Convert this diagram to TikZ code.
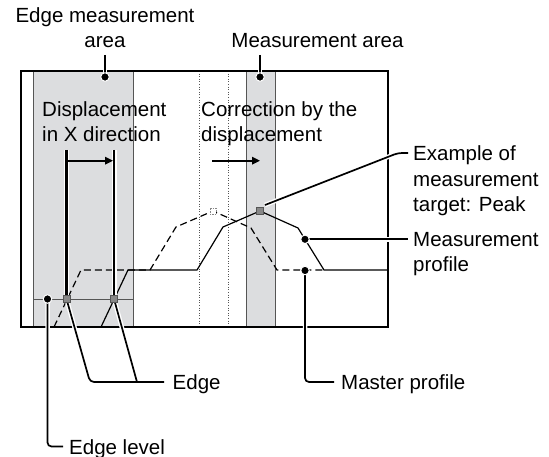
\documentclass[tikz,border=0pt]{standalone}
\usepackage{fontspec}
\setmainfont{Liberation Sans}
\usetikzlibrary{arrows.meta, positioning, calc}
\definecolor{AreaGray}{RGB}{220,221,223}
\definecolor{LineGray}{RGB}{85,85,85}
\definecolor{MarkGray}{RGB}{135,135,135}

\begin{document}
\begin{tikzpicture}[x=1pt, y=-1pt,
    lbl/.style={font=\fontsize{20.5}{25.3}\selectfont, inner sep=0pt, align=left, anchor=base west},
    area/.style={fill=AreaGray, draw=LineGray, line width=0.8pt},
    prof/.style={line width=1.2pt},
    master/.style={prof, dash pattern=on 7pt off 4pt},
    leader/.style={draw=black, line width=1.7pt, rounded corners=4pt, preaction={draw=white, line width=4.5pt}},
    bracket/.style={draw=black, line width=2.3pt, preaction={draw=white, line width=5pt}},
    dotmark/.style={circle, fill=black, draw=white, line width=1pt, inner sep=0pt, minimum size=8.5pt},
    edgemark/.style={draw=LineGray, fill=MarkGray, line width=0.8pt, inner sep=0pt, minimum size=7pt},
    shiftarrow/.style={draw=black, line width=1.8pt, -{Triangle[length=8pt,width=7.5pt]}}]
  \useasboundingbox (0,0) rectangle (549,457);

  % areas and frame
  \draw[area] (33,71) rectangle (133,327);
  \draw[area] (246,71) rectangle (275,327);
  \foreach \x in {199,228}
    \draw[LineGray, dotted, line width=0.6pt] (\x,71) -- (\x,327);
  \draw[LineGray, line width=0.8pt] (33,299) -- (133,299);

  % profiles
  \draw[master] (54,327) -- (81,270) -- (150,270) -- (176,227) -- (213,211)
    -- (251,228) -- (277,270) -- (324,270);
  \draw[prof] (101,327) -- (128,270) -- (197,270) -- (223,227) -- (260,211)
    -- (298,228) -- (324,270) -- (388,270);
  \draw[line width=1.5pt] (21,71) rectangle (388,327);

  % points on the profiles
  \coordinate (e1) at (66.5,299);
  \coordinate (e2) at (114,299);
  \coordinate (peak) at (260,211);
  \coordinate (mpeak) at (213,211);

  % labels (base = last line)
  \node[lbl, align=center, anchor=base] (lblEdgeArea) at (105,47.7) {Edge measurement\\area};
  \node[lbl, anchor=base] (lblMeasArea) at (317.5,47.7) {Measurement area};
  \node[lbl] (lblDisp) at (42,141.7) {Displacement\\in X direction};
  \node[lbl] (lblCorr) at (201,141.7) {Correction by the\\displacement};
  \node[lbl] (lblExample) at (413,211.5) {Example of\\measurement\\target: Peak};
  \node[lbl] (lblMeasProf) at (413,271.5) {Measurement\\profile};
  \node[lbl] (lblEdge) at (172.5,389.5) {Edge};
  \node[lbl] (lblMaster) at (341,389.5) {Master profile};
  \node[lbl] (lblEdgeLevel) at (69,454) {Edge level};

  % displacement bracket and correction arrow
  \coordinate (b1) at (66.5,150);
  \coordinate (b2) at (114,150);
  \draw[bracket] (b1) -- (e1) (b2) -- (e2);
  \draw[shiftarrow] (66.5,160.7) -- (113,160.7);
  \draw[shiftarrow] (212,160.7) -- (260,160.7);

  % leaders
  \coordinate (tEdgeArea) at (105,55);
  \coordinate (dEdgeArea) at (105,77);
  \coordinate (tMeasArea) at (260,55);
  \coordinate (dMeasArea) at (260,77);
  \coordinate (cExample) at (408,153);
  \coordinate (dMeasProf) at (305,239.3);
  \coordinate (cMeasProf) at (408,239.3);
  \coordinate (dMaster) at (305,270.5);
  \coordinate (cMaster) at (334,382);
  \coordinate (cEdge) at (164,382);
  \coordinate (dEdgeLevel) at (47.5,299);
  \coordinate (cEdgeLevel) at (63,446.5);

  \draw[leader] (tEdgeArea) -- (dEdgeArea);
  \draw[leader] (tMeasArea) -- (dMeasArea);
  \draw[leader] ($(peak)+(5,-6)$) -- (398,153) -- (cExample);
  \draw[leader] (dMeasProf) -- (cMeasProf);
  \draw[leader] (dMaster) |- (cMaster);
  \draw[leader] (e1) -- (90,382) -- (cEdge) (e2) -- (137,382);
  \draw[leader] (dEdgeLevel) |- (cEdgeLevel);

  % markers and dots
  \node[edgemark] (m1) at (e1) {};
  \node[edgemark] (m2) at (e2) {};
  \node[edgemark] (mPeak) at (peak) {};
  \node[draw=MarkGray, fill=white, densely dotted, line width=0.6pt, inner sep=0pt, minimum size=6pt] (mMasterPeak) at (mpeak) {};
  \foreach \d in {dEdgeArea, dMeasArea, dMeasProf, dMaster, dEdgeLevel}
    \node[dotmark] at (\d) {};
\end{tikzpicture}
\end{document}
